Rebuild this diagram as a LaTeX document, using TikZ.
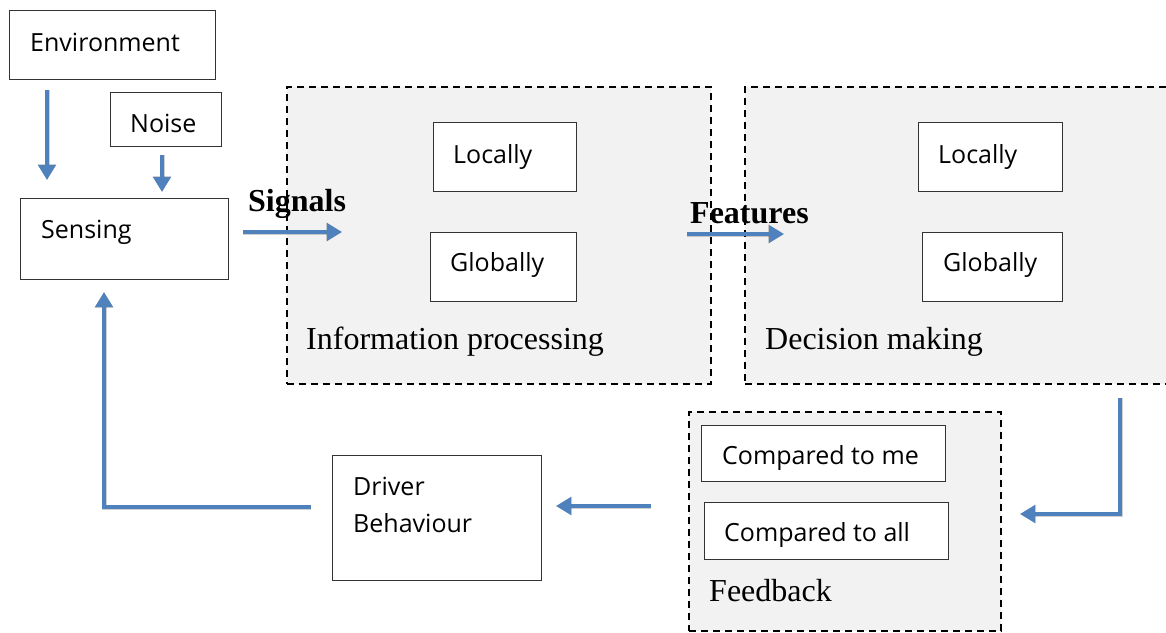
\documentclass[tikz,border=0pt]{standalone}
\usepackage{fontspec}
\setmainfont{Liberation Serif}
\newfontfamily\boxfont{Open Sans}
\usetikzlibrary{arrows.meta}
\definecolor{flowblue}{HTML}{4F81BD}
\definecolor{panelgray}{HTML}{F2F2F2}
\definecolor{edgegray}{HTML}{333333}
\tikzset{
  box/.style={draw=edgegray, line width=1.4pt, fill=white, anchor=north west, inner sep=0pt},
  panel/.style={draw=black, line width=1.8pt, dash pattern=on 7pt off 5pt, fill=panelgray, anchor=north west, inner sep=0pt},
  boxtext/.style={anchor=base west, inner sep=0pt, font=\boxfont\fontsize{25}{30}\selectfont},
  seriftext/.style={anchor=base west, inner sep=0pt, font=\fontsize{32}{38}\selectfont},
  boldtext/.style={anchor=base west, inner sep=0pt, font=\bfseries\fontsize{32}{38}\selectfont},
  flow/.style={draw=flowblue, line width=4.5pt, -{Triangle[width=17pt,length=15pt]}},
  flowshadow/.style={draw=black, opacity=0.18, line width=5pt, xshift=2pt, yshift=-3pt, -{Triangle[width=18pt,length=16pt]}}
}
\begin{document}
\begin{tikzpicture}[x=1pt, y=-1pt]
\useasboundingbox (0,0) rectangle (1166,632);

% dashed stage panels
\node[panel, minimum width=424, minimum height=297] (info) at (286,86) {};
\node[panel, minimum width=440, minimum height=297] (decision) at (744,86) {};
\node[panel, minimum width=312, minimum height=219] (feedback) at (688,411) {};
% open right side of the decision panel
\fill[panelgray] (1160,89) rectangle (1166,381);

% solid boxes
\node[box, minimum width=206, minimum height=69] (env) at (9,10) {};
\node[box, minimum width=111, minimum height=54] (noise) at (110,92) {};
\node[box, minimum width=208, minimum height=81] (sensing) at (20,198) {};
\node[box, minimum width=143, minimum height=69] (iplocal) at (433,122) {};
\node[box, minimum width=146, minimum height=69] (ipglobal) at (430,232) {};
\node[box, minimum width=144, minimum height=69] (dmlocal) at (918,122) {};
\node[box, minimum width=140, minimum height=69] (dmglobal) at (922,232) {};
\node[box, minimum width=244, minimum height=56] (cmpme) at (701,425) {};
\node[box, minimum width=244, minimum height=57] (cmpall) at (704,502) {};
\node[box, minimum width=209, minimum height=125] (driver) at (332,455) {};

% box texts
\node[boxtext] (envtxt) at (30,51) {Environment};
\node[boxtext] (noisetxt) at (130,132) {Noise};
\node[boxtext] (sensetxt) at (41,238) {Sensing};
\node[boxtext] (iploctxt) at (453,163) {Locally};
\node[boxtext] (ipglotxt) at (450,271) {Globally};
\node[boxtext] (dmloctxt) at (938,163) {Locally};
\node[boxtext] (dmglotxt) at (943,271) {Globally};
\node[boxtext] (metxt) at (722,464) {Compared to me};
\node[boxtext] (alltxt) at (724,541) {Compared to all};
\node[boxtext] (drvtxt1) at (353,495) {Driver};
\node[boxtext] (drvtxt2) at (353,532) {Behaviour};

% stage labels
\node[seriftext] (infotxt) at (306,349) {Information processing};
\node[seriftext] (dectxt) at (765,349) {Decision making};
\node[seriftext] (fbtxt) at (709,601) {Feedback};
\node[boldtext] (sigtxt) at (248,211) {Signals};
\node[boldtext] (feattxt) at (690,223) {Features};

% connector end points
\coordinate (envA) at (47,90);   \coordinate (envB) at (47,180);
\coordinate (noiA) at (162,155); \coordinate (noiB) at (162,192);
\coordinate (sigA) at (243,232); \coordinate (sigB) at (342,232);
\coordinate (feaA) at (687,234); \coordinate (feaB) at (784,234);
\coordinate (decA) at (1120,398); \coordinate (decC) at (1120,514); \coordinate (decB) at (1020,514);
\coordinate (fbA) at (651,506);  \coordinate (fbB) at (556,506);
\coordinate (drA) at (311,507);  \coordinate (drC) at (104,507); \coordinate (drB) at (104,292);

% soft shadows under the arrows
\begin{scope}
\draw[flowshadow] (envA) -- (envB);
\draw[flowshadow] (noiA) -- (noiB);
\draw[flowshadow] (sigA) -- (sigB);
\draw[flowshadow] (feaA) -- (feaB);
\draw[flowshadow] (decA) -- (decC) -- (decB);
\draw[flowshadow] (fbA) -- (fbB);
\draw[flowshadow] (drA) -- (drC) -- (drB);
\end{scope}

% arrows
\draw[flow] (envA) -- (envB);
\draw[flow] (noiA) -- (noiB);
\draw[flow] (sigA) -- (sigB);
\draw[flow] (feaA) -- (feaB);
\draw[flow] (decA) -- (decC) -- (decB);
\draw[flow] (fbA) -- (fbB);
\draw[flow] (drA) -- (drC) -- (drB);
\end{tikzpicture}
\end{document}
